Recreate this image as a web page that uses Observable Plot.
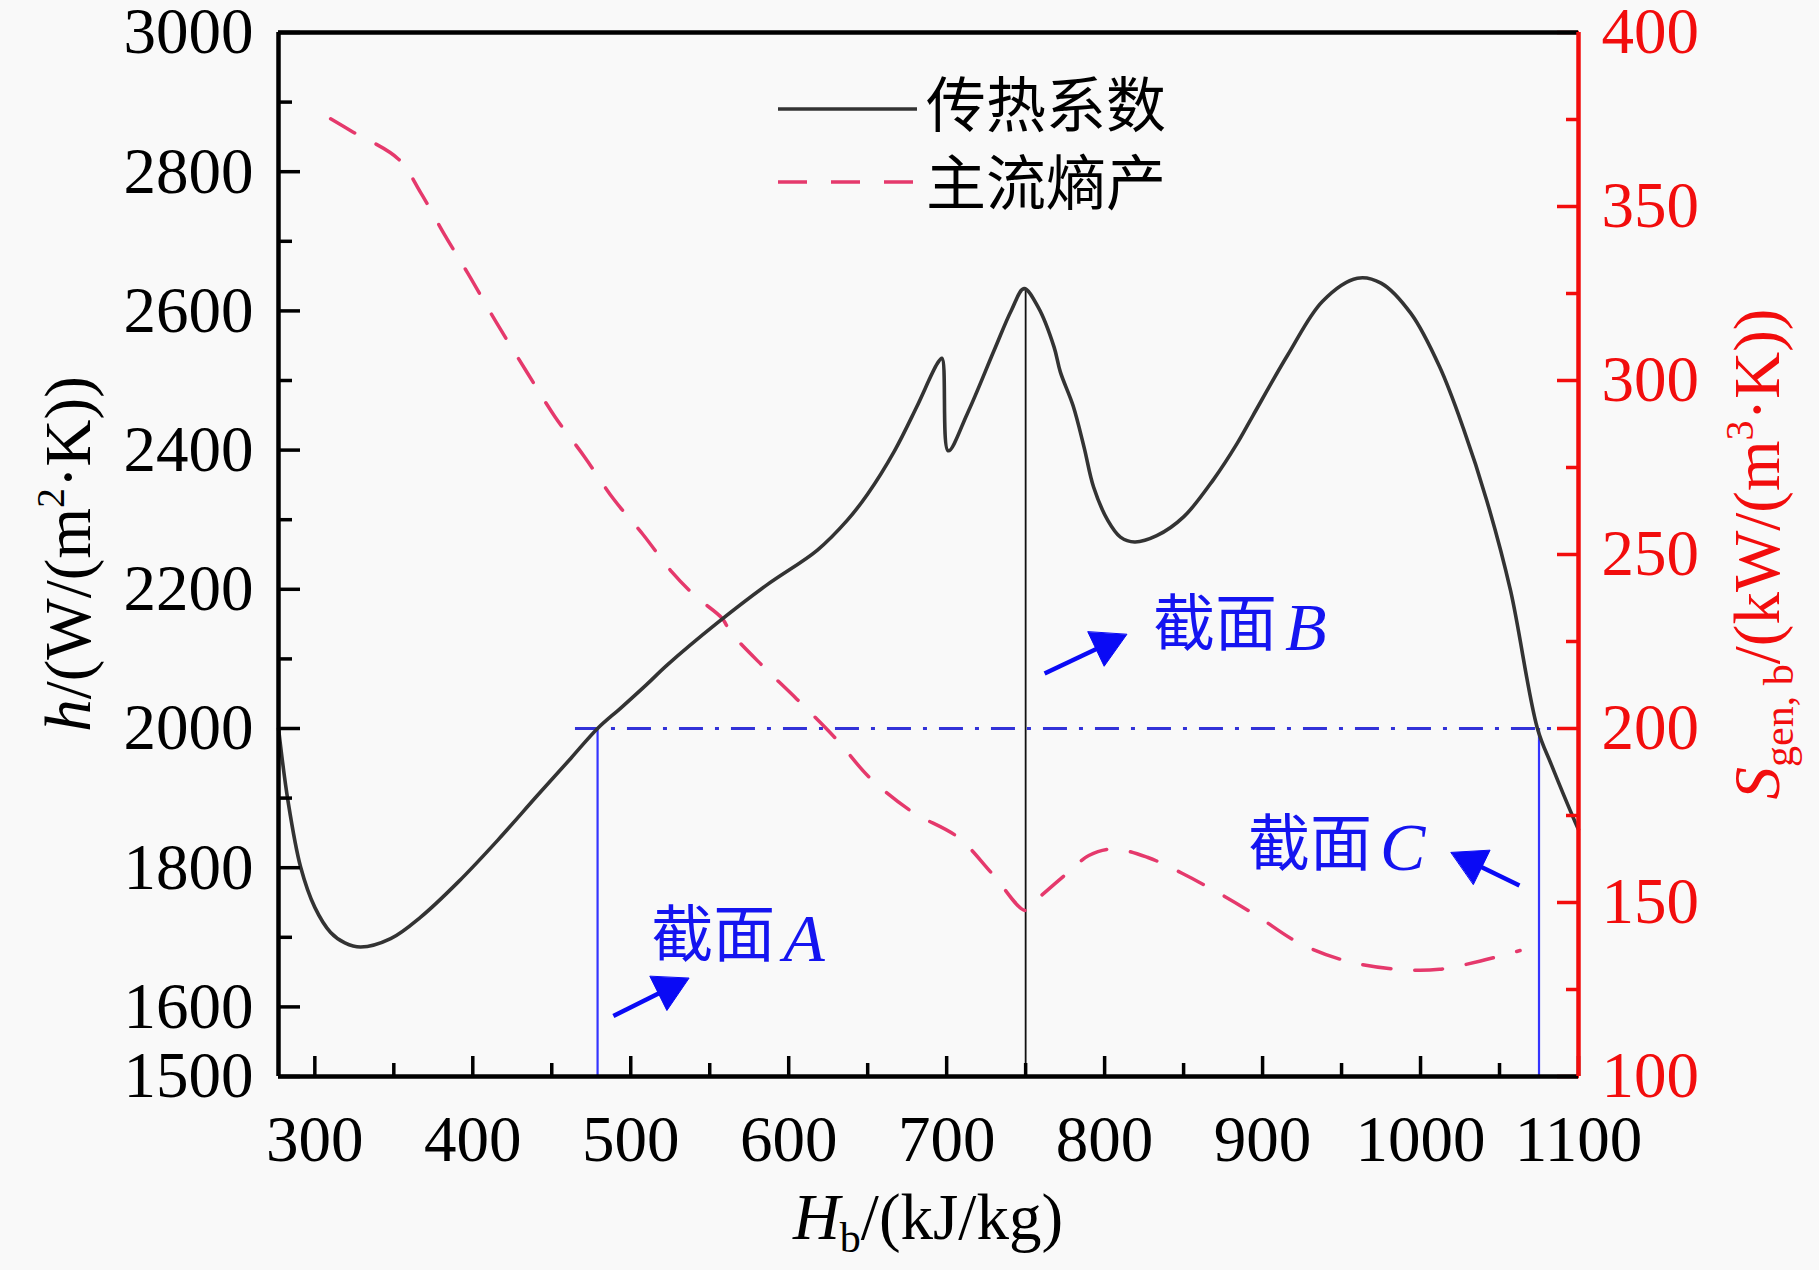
<!DOCTYPE html>
<html><head><meta charset="utf-8">
<script src="https://cdn.jsdelivr.net/npm/d3@7"></script>
<script src="https://cdn.jsdelivr.net/npm/@observablehq/plot@0.6"></script>
<style>body{margin:0;background:#f9f9f9;}</style>
</head><body><div id="chart"></div>
<script>
// ---- data ----
const hX = [277, 283, 291, 300, 310, 319, 329, 348, 367, 391, 416, 441, 462, 479, 494, 510, 523, 555, 586, 618, 637, 650, 667, 681, 694, 697, 701, 713, 730, 741, 749, 758, 768, 772, 780, 787, 793, 802, 810, 819, 833, 850, 869, 884, 894, 916, 938, 960, 975, 994, 1012, 1027, 1042, 1057, 1074, 1083, 1098, 1100];
const hVal = [2000, 1896, 1801, 1743, 1707, 1692, 1686, 1698, 1729, 1780, 1840, 1904, 1957, 2000, 2030, 2063, 2091, 2152, 2206, 2256, 2299, 2337, 2399, 2462, 2524, 2532, 2399, 2452, 2543, 2601, 2632, 2605, 2548, 2512, 2464, 2404, 2347, 2299, 2275, 2268, 2277, 2304, 2358, 2410, 2450, 2537, 2614, 2647, 2640, 2596, 2520, 2432, 2327, 2198, 2000, 1947, 1865, 1855];
const sX = [310, 323, 353, 367, 382, 397, 415, 434, 452, 471, 489, 508, 526, 541, 558, 563, 585, 605, 630, 651, 678, 707, 729, 750, 757, 777, 790, 805, 827, 849, 875, 897, 923, 953, 986, 1012, 1038, 1063];
const sVal = [375.2, 371.7, 363.6, 354, 342, 330.7, 316.6, 302.6, 289.6, 277.9, 266, 255.6, 245, 238, 231.6, 227.8, 217.3, 208.5, 197, 186, 176.1, 168.8, 158.2, 147.7, 150.8, 158.7, 163.5, 165.4, 163, 158.4, 152, 146, 138.4, 133.2, 130.8, 130.8, 133.2, 136.2];

const xMajor = [300, 400, 500, 600, 700, 800, 900, 1000, 1100];
const xMinor = [350, 450, 550, 650, 750, 850, 950, 1050];
const hMajor = [1500, 1600, 1800, 2000, 2200, 2400, 2600, 2800, 3000];
const hMinor = [1700, 1900, 2100, 2300, 2500, 2700, 2900];
const sMajor = [100, 150, 200, 250, 300, 350, 400];
const sMinor = [125, 175, 225, 275, 325, 375];

const sectionNames = ["A", "B", "C"];
const sectionX = [479, 750, 1075];
const sectionTop = [2000, 2632, 2000];
const sectionColor = ["#3535ff", "#111111", "#3535ff"];
const refH = 2000, refX1 = 465, refX2 = 1100;

const arrowTail = [[489, 1587], [762, 2079], [1062.6, 1774.4]];
const arrowTip = [[536.8, 1641], [814, 2135], [1019.4, 1822]];
const labelPos = [[513, 1700], [830.7, 2146.6], [890.7, 1830.7]];

const legendNames = ["传热系数", "主流熵产"];

// ---- layout ----
const W = 1819, H = 1270;
const mL = 278, mR = 241, mT = 32, mB = 194;
const xDom = [277, 1100], yDom = [1500, 3000];
const kx = (W - mL - mR) / (xDom[1] - xDom[0]);
const ky = (H - mT - mB) / (yDom[1] - yDom[0]);
const toLeft = s => 1500 + (s - 100) * 5;

const blue = "#1414f0", pink = "#e5396c", red = "#f20d0d";

const hData = hX.map((x, i) => ({x, y: hVal[i]}));
const sData = sX.map((x, i) => ({x, y: toLeft(sVal[i])}));
const sections = sectionNames.map((n, i) => ({n, x: sectionX[i], y1: 1500, y2: sectionTop[i], c: sectionColor[i]}));

// arrows: shaft + filled triangular head
const L = 34, HW = 19;
const shafts = [], heads = [];
arrowTip.forEach((tip, i) => {
  const tail = arrowTail[i];
  const dxs = (tip[0] - tail[0]) * kx, dys = -(tip[1] - tail[1]) * ky;
  const len = Math.hypot(dxs, dys), ux = dxs / len, uy = dys / len;
  const px = -uy, py = ux;
  const toData = (ox, oy) => ({x: tip[0] + ox / kx, y: tip[1] - oy / ky});
  const bx = -L * ux, by = -L * uy;
  const b = toData(bx * 0.8, by * 0.8);
  shafts.push({x1: tail[0], y1: tail[1], x2: b.x, y2: b.y});
  heads.push({id: i, ...toData(0, 0)});
  heads.push({id: i, ...toData(bx + HW * px, by + HW * py)});
  heads.push({id: i, ...toData(bx - HW * px, by - HW * py)});
});
const labels = sectionNames.map((n, i) => ({n, x: labelPos[i][0], y: labelPos[i][1]}));

const chart = Plot.plot({
  width: W, height: H,
  marginLeft: mL, marginRight: mR, marginTop: mT, marginBottom: mB,
  x: {domain: xDom},
  y: {domain: yDom},
  style: {background: "#f9f9f9", fontFamily: "Liberation Serif"},
  marks: [
    Plot.ruleX(sections, {x: "x", y1: "y1", y2: "y2", stroke: "c", strokeWidth: d => d.n === "B" ? 1.8 : 2.2}),
    Plot.ruleY([{y: refH, x1: refX1, x2: refX2}], {y: "y", x1: "x1", x2: "x2", stroke: "#3232d8", strokeWidth: 3, strokeDasharray: "24,12,4,12"}),
    Plot.line(sData, {x: "x", y: "y", stroke: pink, strokeWidth: 3.5, strokeDasharray: "28,24", curve: "catmull-rom"}),
    Plot.line(hData, {x: "x", y: "y", stroke: "#333333", strokeWidth: 3.6, curve: "catmull-rom"}),
    Plot.link(shafts, {x1: "x1", y1: "y1", x2: "x2", y2: "y2", stroke: "#0a0af5", strokeWidth: 4.5}),
    Plot.line(heads, {x: "x", y: "y", z: "id", fill: "#0a0af5", stroke: "#0a0af5", strokeWidth: 1, curve: "linear-closed"}),
    Plot.text(labels, {x: "x", y: "y", text: () => "截面", textAnchor: "start", fontFamily: "Noto Sans CJK SC", fontSize: 62, fill: blue}),
    Plot.text(labels, {x: "x", y: "y", text: "n", dx: 132, dy: 2, textAnchor: "start", fontFamily: "Liberation Serif", fontStyle: "italic", fontSize: 68, fill: blue}),
    // axes (ticks inward)
    Plot.axisX({ticks: xMajor, tickSize: -20, tickPadding: 58, fontSize: 65, strokeWidth: 3.5, tickFormat: d => String(d), label: null}),
    Plot.axisX({ticks: xMinor, tickSize: -13, strokeWidth: 3.5, tickFormat: () => "", label: null}),
    Plot.axisY({ticks: hMajor, anchor: "left", tickSize: -22, tickPadding: 47, fontSize: 65, strokeWidth: 3.5, tickFormat: d => String(d), label: null}),
    Plot.axisY({ticks: hMinor, anchor: "left", tickSize: -14, strokeWidth: 3.5, tickFormat: () => "", label: null}),
    Plot.axisY({ticks: sMajor.map(toLeft), anchor: "right", tickSize: -22, tickPadding: 45, fontSize: 65, strokeWidth: 3.5, color: red, tickFormat: d => String((d - 1500) / 5 + 100), label: null}),
    Plot.axisY({ticks: sMinor.map(toLeft), anchor: "right", tickSize: -13, strokeWidth: 3.5, color: red, tickFormat: () => "", label: null}),
    // frame
    Plot.ruleY([yDom[1]], {stroke: "#000", strokeWidth: 4.5}),
    Plot.ruleY([yDom[0]], {stroke: "#000", strokeWidth: 4.5}),
    Plot.ruleX([xDom[0]], {stroke: "#000", strokeWidth: 4.5}),
    Plot.ruleX([xDom[1]], {stroke: red, strokeWidth: 4.5})
  ]
});
document.getElementById("chart").appendChild(chart);

// ---- axis titles & legend ----
const svg = d3.select(chart);
const serif = "Liberation Serif";
const cx = mL + (W - mL - mR) / 2, cy = mT + (H - mT - mB) / 2;

const tb = svg.append("text").attr("x", cx).attr("y", 1239).attr("text-anchor", "middle")
  .attr("font-family", serif).attr("font-size", 65).attr("fill", "#000");
tb.append("tspan").attr("font-style", "italic").text("H");
tb.append("tspan").attr("font-size", 42).attr("dy", 13).text("b");
tb.append("tspan").attr("dy", -13).text("/(kJ/kg)");

const tl = svg.append("text").attr("transform", `translate(90,${cy}) rotate(-90)`).attr("text-anchor", "middle")
  .attr("font-family", serif).attr("font-size", 65).attr("fill", "#000");
tl.append("tspan").attr("font-style", "italic").text("h");
tl.append("tspan").text("/(W/(m");
tl.append("tspan").attr("font-size", 40).attr("dy", -26).text("2");
tl.append("tspan").attr("dy", 26).text("·K))");

const tr = svg.append("text").attr("transform", `translate(1779,${cy}) rotate(-90)`).attr("text-anchor", "middle")
  .attr("font-family", serif).attr("font-size", 65).attr("fill", red);
tr.append("tspan").attr("font-style", "italic").text("S");
tr.append("tspan").attr("font-size", 42).attr("dy", 14).text("gen, b");
tr.append("tspan").attr("dy", -14).text("/(kW/(m");
tr.append("tspan").attr("font-size", 40).attr("dy", -26).text("3");
tr.append("tspan").attr("dy", 26).text("·K))");

const lg = svg.append("g");
lg.append("line").attr("x1", 778).attr("x2", 917).attr("y1", 109).attr("y2", 109)
  .attr("stroke", "#333").attr("stroke-width", 3.5);
lg.append("line").attr("x1", 778).attr("x2", 913).attr("y1", 182).attr("y2", 182)
  .attr("stroke", pink).attr("stroke-width", 3.5).attr("stroke-dasharray", "29,24");
legendNames.forEach((n, i) => {
  lg.append("text").attr("x", 926).attr("y", i === 0 ? 106 : 184).attr("dy", "0.35em")
    .attr("text-anchor", "start")
    .attr("font-family", "Noto Sans CJK SC").attr("font-size", 60).attr("fill", "#000").text(n);
});
</script>
</body></html>
